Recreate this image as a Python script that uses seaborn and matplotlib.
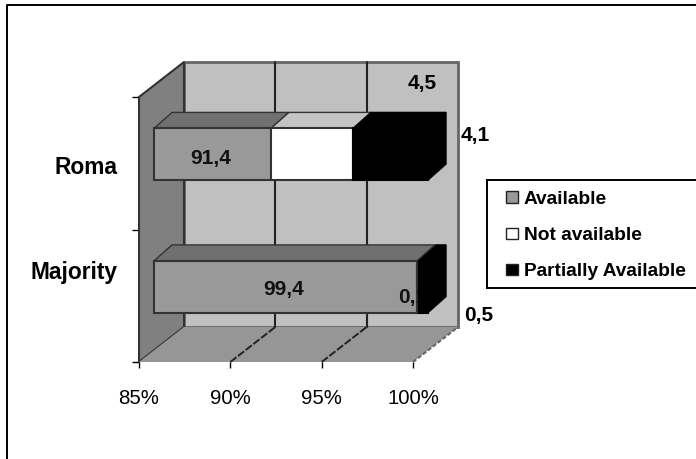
import matplotlib
matplotlib.use("Agg")
import matplotlib.pyplot as plt
from matplotlib.patches import Patch, Polygon, Rectangle
from matplotlib.lines import Line2D
from matplotlib.transforms import Affine2D
import pandas as pd
import seaborn as sns

# values
groups = ["Roma", "Majority"]
series = ["Available", "Not available", "Partially Available"]
available = [91.4, 99.4]
not_available = [4.5, 0.1]
partially = [4.1, 0.5]
x_ticks = [85, 90, 95, 100]

front_colors = {"Available": "#999999", "Not available": "#ffffff", "Partially Available": "#000000"}
top_colors = {"Available": "#707070", "Not available": "#c4c4c4", "Partially Available": "#000000"}
side_colors = {"Available": "#707070", "Not available": "#c4c4c4", "Partially Available": "#000000"}

df = pd.DataFrame({
    "group": groups * 3,
    "series": [s for s in series for _ in groups],
    "value": available + not_available + partially,
})

sns.set_theme(style="white")
plt.rcParams["font.family"] = ["Liberation Sans", "DejaVu Sans"]

W, H = 696, 459
fig = plt.figure(figsize=(W / 100, H / 100), dpi=100)
ax = fig.add_axes([139 / W, 1 - 362 / H, 274 / W, 265 / H])
ax.patch.set_alpha(0)

sns.barplot(data=df, x="value", y="group", hue="series", hue_order=series, order=groups,
            dodge=False, palette=front_colors, width=0.39, orient="h", legend=False, ax=ax,
            edgecolor="#333333", linewidth=1.5)
ax.set_xlim(85, 100)
ax.set_ylim(1.5, -0.5)


def shifted(dx, dy):
    # pixels on top of the data position, this fakes the 3d depth
    return ax.transData + Affine2D().translate(dx, dy)


def face(points, color, dx=0, dy=0, z=1, edge="none", lw=0):
    ax.add_patch(Polygon(points, closed=True, facecolor=color, edgecolor=edge, linewidth=lw,
                         transform=shifted(dx, dy), clip_on=False, zorder=z))


def pix(x_px, y_px):
    return ax.transData.inverted().transform((x_px, H - y_px))


# walls, depth of the box is 45 px across and 35 px up
BX, BY = 45, 35
face([(85, -0.5), (100, -0.5), (100, 1.5), (85, 1.5)], "#c0c0c0", BX, BY, 0.5, "#666666", 2)
face([pix(139, 97), pix(139 + BX, 97 - BY), pix(139 + BX, 362 - BY), pix(139, 362)], "#808080", 0, 0, 0.6, "#333333", 1.5)
face([pix(139, 362), pix(413, 362), pix(413 + BX, 362 - BY), pix(139 + BX, 362 - BY)], "#969696", 0, 0, 0.6)

# grid lines on back wall and floor
for t in x_ticks[1:-1]:
    ax.plot([t, t], [-0.5, 1.5], color="#222222", lw=1.5, transform=shifted(BX, BY), clip_on=False, zorder=0.8)
    x0, y0 = ax.transData.transform((t, 1.5))
    ax.add_line(Line2D([x0, x0 + BX], [y0, y0 + BY], color="#222222", lw=1.4, ls=(0, (4, 1)),
                       transform=None, clip_on=False, zorder=0.8))
x0, y0 = ax.transData.transform((100, 1.5))
ax.add_line(Line2D([x0, x0 + BX], [y0, y0 + BY], color="#666666", lw=1.5, ls=(0, (2, 1)),
                   transform=None, clip_on=False, zorder=0.8))

# bars: seaborn draws them from zero, move each one to its stacked start
SX, SY = 15, 9
DX, DY = 18, 16
totals = {g: 85.0 for g in groups}
for container, name in zip(ax.containers, series):
    for bar, group in zip(container, groups):
        v = df[(df.group == group) & (df.series == name)].value.iloc[0]
        left = totals[group] if name != "Available" else 85.0
        right = left + v if name != "Available" else v
        totals[group] = right
        bar.set_x(left)
        bar.set_width(right - left)
        bar.set_transform(shifted(SX, SY))
        bar.set_clip_on(False)
        edge = "#000000" if name == "Partially Available" else "#333333"
        bar.set_edgecolor(edge)
        z = 6 if name == "Partially Available" else 2
        bar.set_zorder(z)
        top, bottom = bar.get_y(), bar.get_y() + bar.get_height()
        # top face
        tl = ax.transData.transform((left, top))
        tr = ax.transData.transform((right, top))
        pts = [(left, top), (right, top),
               ax.transData.inverted().transform((tr[0] + DX, tr[1] + DY)),
               ax.transData.inverted().transform((tl[0] + DX, tl[1] + DY))]
        face(pts, top_colors[name], SX, SY, z - 0.5, "#333333" if name != "Partially Available" else "#000000", 1)
        # right end only for the last segment
        if name == "Partially Available":
            br = ax.transData.transform((right, bottom))
            pts = [(right, top), ax.transData.inverted().transform((tr[0] + DX, tr[1] + DY)),
                   ax.transData.inverted().transform((br[0] + DX, br[1] + DY)), (right, bottom)]
            face(pts, side_colors[name], SX, SY, z - 0.5, "#000000", 1)


def bold_label(x_px, y_px, text, size=15):
    fig.text(x_px / W, 1 - y_px / H, text, fontsize=size, fontweight="bold", color="black",
             ha="center", va="center", zorder=10)


def fmt(v):
    return f"{v:.1f}".replace(".", ",")


ax.text(91.4 / 2 + 85 / 2, 0, fmt(available[0]), transform=shifted(SX - 2, SY - 4), fontsize=15, fontweight="bold",
        color="#111111", ha="center", va="center", zorder=3)
ax.text(99.4 / 2 + 85 / 2, 1, fmt(available[1]), transform=shifted(SX - 2, SY - 3), fontsize=15, fontweight="bold",
        color="#111111", ha="center", va="center", zorder=3)
# the 0,1 label sits under the black block in the original
ax.text(99.4, 1, fmt(not_available[1]), transform=shifted(SX - 4, SY - 11), fontsize=15, fontweight="bold",
        color="#111111", ha="center", va="center", zorder=3)
bold_label(422, 84, fmt(not_available[0]))
bold_label(475, 136, fmt(partially[0]))
bold_label(479, 316, fmt(partially[1]))

# axis
sns.despine(ax=ax, left=True, bottom=True, top=True, right=True)
ax.set_xlabel("")
ax.set_ylabel("")
ax.set_xticks(x_ticks)
ax.set_xticklabels([f"{t}%" for t in x_ticks], fontsize=14.7, color="black")
ax.set_yticks([-0.5, 0.5, 1.5])
ax.set_yticklabels([])
ax.tick_params(axis="x", bottom=True, length=4.3, width=1, color="black", pad=15)
ax.tick_params(axis="y", left=True, length=5, width=1, color="black")

bold_label(85.5, 168, groups[0], 16.4)
bold_label(74, 272, groups[1], 16.4)

# page frame, only top and left are inside the crop
fig.add_artist(Line2D([7 / W, 7 / W, 1], [0, 1 - 5 / H, 1 - 5 / H], color="black", lw=1.4))

# legend box
fig.add_artist(Rectangle((487 / W, 1 - 288 / H), 212 / W, 108 / H, transform=fig.transFigure,
                         facecolor="white", edgecolor="black", linewidth=1.4, clip_on=False))
handles = [Patch(facecolor=front_colors[s], edgecolor="#222222", linewidth=1) for s in series]
leg = fig.legend(handles, series, loc="center left", bbox_to_anchor=(506 / W, 1 - 235.5 / H),
                 frameon=False, prop={"weight": "bold", "size": 13.8},
                 handlelength=0.62, handleheight=0.52, handletextpad=0.3, labelspacing=1.0,
                 borderpad=0, borderaxespad=0)
for t in leg.get_texts():
    t.set_color("black")
leg.set_zorder(20)

fig.savefig("out.png", dpi=100)
